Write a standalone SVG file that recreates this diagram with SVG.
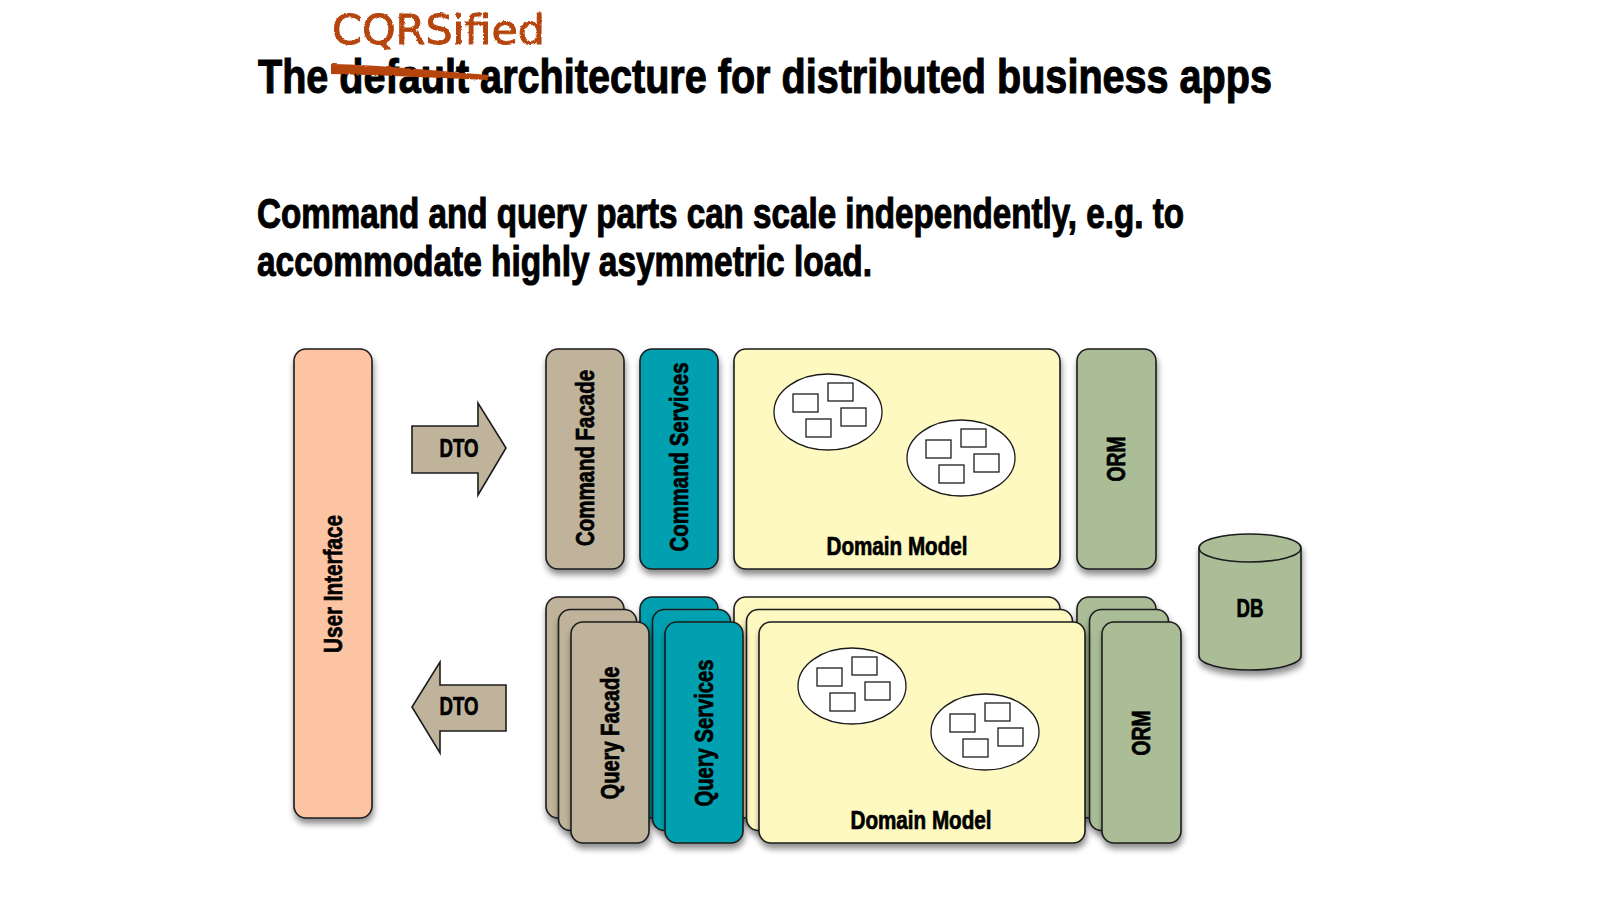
<svg xmlns="http://www.w3.org/2000/svg" width="1600" height="900" viewBox="0 0 1600 900">
  <defs>
    <filter id="shadow" x="-20%" y="-20%" width="140%" height="140%">
      <feDropShadow dx="1" dy="5" stdDeviation="3" flood-color="#000" flood-opacity="0.45"/>
    </filter>
    <filter id="rough" x="-5%" y="-20%" width="110%" height="140%">
      <feTurbulence type="fractalNoise" baseFrequency="0.35" numOctaves="2" seed="3" result="n"/>
      <feDisplacementMap in="SourceGraphic" in2="n" scale="2.5" xChannelSelector="R" yChannelSelector="G"/>
    </filter>
    <g id="agg">
      <ellipse cx="0" cy="0" rx="54" ry="38" fill="#fff" stroke="#1c1c1c" stroke-width="1.3"/>
      <rect x="-35" y="-18" width="25" height="18" fill="#fff" stroke="#1c1c1c" stroke-width="1.3"/>
      <rect x="0" y="-29" width="25" height="18" fill="#fff" stroke="#1c1c1c" stroke-width="1.3"/>
      <rect x="13" y="-4" width="25" height="18" fill="#fff" stroke="#1c1c1c" stroke-width="1.3"/>
      <rect x="-22" y="7" width="25" height="18" fill="#fff" stroke="#1c1c1c" stroke-width="1.3"/>
    </g>
  </defs>
  <style>
    .box { stroke:#1c1c1c; stroke-width:1.6; filter:url(#shadow); }
    .ui { fill:#fdc4a3; }
    .taupe { fill:#bfb39b; }
    .teal { fill:#00a0b0; }
    .yellow { fill:#fef8c1; }
    .sage { fill:#aabd97; }
    .lbl { font-family:"Liberation Sans", Arial, sans-serif; font-weight:bold; font-size:25px; fill:#000; stroke:#000; stroke-width:0.7px; }
    .head { font-family:"Liberation Sans", Arial, sans-serif; font-weight:bold; fill:#000; stroke:#000; stroke-width:1.1px; }
    .hand { font-family:"DejaVu Sans", sans-serif; fill:#b5450f; stroke:#b5450f; stroke-width:0.9px; }
  </style>
  <rect width="1600" height="900" fill="#fff"/>

  <g id="title">
    <text class="head" x="258" y="93" font-size="49" textLength="1014" lengthAdjust="spacingAndGlyphs">The default architecture for distributed business apps</text>
    <path d="M331,64 C380,65 440,71 489,75 L488,80 C440,78 380,75 331,74 Z" fill="#b5450f" filter="url(#rough)"/>
    <text class="hand" x="332" y="44" font-size="41" textLength="213" lengthAdjust="spacingAndGlyphs" filter="url(#rough)">CQRSified</text>
  </g>

  <g id="subtitle">
    <text class="head" x="257" y="228" font-size="43" textLength="927" lengthAdjust="spacingAndGlyphs">Command and query parts can scale independently, e.g. to</text>
    <text class="head" x="257" y="276" font-size="43" textLength="615" lengthAdjust="spacingAndGlyphs">accommodate highly asymmetric load.</text>
  </g>

  <g id="user-interface">
    <rect class="box ui" x="294" y="349" width="78" height="469" rx="12"/>
    <text class="lbl" transform="translate(333,584) rotate(-90)" x="0" y="9" text-anchor="middle" textLength="138" lengthAdjust="spacingAndGlyphs">User Interface</text>
  </g>

  <g id="command-facade">
    <rect class="box taupe" x="546" y="349" width="78" height="220" rx="12"/>
    <text class="lbl" transform="translate(585,458) rotate(-90)" x="0" y="9" text-anchor="middle" textLength="176" lengthAdjust="spacingAndGlyphs">Command Facade</text>
  </g>

  <g id="command-services">
    <rect class="box teal" x="640" y="349" width="78" height="220" rx="12"/>
    <text class="lbl" transform="translate(679,457) rotate(-90)" x="0" y="9" text-anchor="middle" textLength="189" lengthAdjust="spacingAndGlyphs">Command Services</text>
  </g>

  <g id="command-domain-model">
    <rect class="box yellow" x="734" y="349" width="326" height="220" rx="12"/>
    <use href="#agg" x="828" y="412"/>
    <use href="#agg" x="961" y="458"/>
    <text class="lbl" x="897" y="555" text-anchor="middle" textLength="141" lengthAdjust="spacingAndGlyphs">Domain Model</text>
  </g>

  <g id="command-orm">
    <rect class="box sage" x="1077" y="349" width="79" height="220" rx="12"/>
    <text class="lbl" transform="translate(1116,459) rotate(-90)" x="0" y="9" text-anchor="middle" textLength="45" lengthAdjust="spacingAndGlyphs">ORM</text>
  </g>

  <g id="db">
    <path class="box sage" d="M1199,548 V656 A51,14 0 0 0 1301,656 V548 A51,14 0 0 0 1199,548 Z"/>
    <path d="M1199,548 A51,14 0 0 0 1301,548" fill="none" stroke="#1c1c1c" stroke-width="1.6"/>
    <text class="lbl" x="1250" y="617" text-anchor="middle" textLength="27" lengthAdjust="spacingAndGlyphs">DB</text>
  </g>

  <g id="query-stack-back">
    <rect class="box taupe" x="546" y="597" width="78" height="221" rx="12"/>
    <rect class="box teal" x="640" y="597" width="78" height="221" rx="12"/>
    <rect class="box yellow" x="734" y="597" width="326" height="221" rx="12"/>
    <rect class="box sage" x="1077" y="597" width="79" height="221" rx="12"/>
  </g>
  <g id="query-stack-middle">
    <rect class="box taupe" x="558.5" y="609.5" width="78" height="221" rx="12"/>
    <rect class="box teal" x="652.5" y="609.5" width="78" height="221" rx="12"/>
    <rect class="box yellow" x="746.5" y="609.5" width="326" height="221" rx="12"/>
    <rect class="box sage" x="1089.5" y="609.5" width="79" height="221" rx="12"/>
  </g>

  <g id="query-facade">
    <rect class="box taupe" x="571" y="622" width="78" height="221" rx="12"/>
    <text class="lbl" transform="translate(610,733) rotate(-90)" x="0" y="9" text-anchor="middle" textLength="133" lengthAdjust="spacingAndGlyphs">Query Facade</text>
  </g>

  <g id="query-services">
    <rect class="box teal" x="665" y="622" width="78" height="221" rx="12"/>
    <text class="lbl" transform="translate(704,733) rotate(-90)" x="0" y="9" text-anchor="middle" textLength="147" lengthAdjust="spacingAndGlyphs">Query Services</text>
  </g>

  <g id="query-domain-model">
    <rect class="box yellow" x="759" y="622" width="326" height="221" rx="12"/>
    <use href="#agg" x="852" y="686"/>
    <use href="#agg" x="985" y="732"/>
    <text class="lbl" x="921" y="829" text-anchor="middle" textLength="141" lengthAdjust="spacingAndGlyphs">Domain Model</text>
  </g>

  <g id="query-orm">
    <rect class="box sage" x="1102" y="622" width="79" height="221" rx="12"/>
    <text class="lbl" transform="translate(1141,733) rotate(-90)" x="0" y="9" text-anchor="middle" textLength="45" lengthAdjust="spacingAndGlyphs">ORM</text>
  </g>

  <g id="connectors">
    <g id="dto-command">
      <path d="M412,426 H478 V403 L506,448 L478,495 V473 H412 Z" fill="#bfb39b" stroke="#1c1c1c" stroke-width="1.6"/>
      <text class="lbl" x="459" y="457" font-size="24" text-anchor="middle" textLength="39" lengthAdjust="spacingAndGlyphs">DTO</text>
    </g>
    <g id="dto-query">
      <path d="M506,685 H440 V662 L412,707 L440,753 V731 H506 Z" fill="#bfb39b" stroke="#1c1c1c" stroke-width="1.6"/>
      <text class="lbl" x="459" y="715" font-size="24" text-anchor="middle" textLength="39" lengthAdjust="spacingAndGlyphs">DTO</text>
    </g>
  </g>
</svg>
